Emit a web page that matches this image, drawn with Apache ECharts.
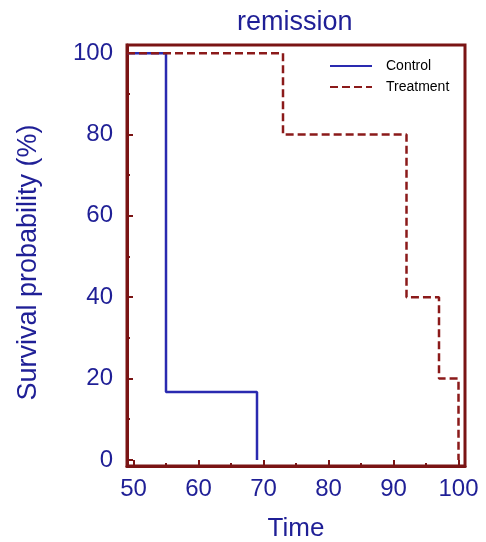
<!DOCTYPE html>
<html>
<head>
<meta charset="utf-8">
<script src="https://cdn.jsdelivr.net/npm/echarts@6/dist/echarts.min.js"></script>
<style>html,body{margin:0;padding:0;background:#fff;}#c{width:486px;height:542px;}</style>
</head>
<body>
<div id="c"></div>
<script>
var controlPoints = [[49, 100], [55, 16.7], [69, 0]];
var treatmentPoints = [[49, 100], [73, 80], [92, 40], [97, 20], [100, 0]];
var seriesNames = ['Control', 'Treatment'];
var titleText = 'remission';
var xName = 'Time';
var yName = 'Survival probability (%)';

var navy = '#1f1f96';
var frame = '#7a1414';
var chart = echarts.init(document.getElementById('c'));
chart.setOption({
  animation: false,
  title: {text: titleText, left: 232, top: 4,
    textStyle: {color: navy, fontSize: 27, fontWeight: 'normal', fontFamily: 'Liberation Sans'}},
  legend: {orient: 'vertical', left: 324, top: 54, itemWidth: 42, itemHeight: 14, itemGap: 7,
    data: seriesNames, itemStyle: {opacity: 0},
    textStyle: {color: '#000', fontSize: 14, fontFamily: 'Liberation Sans', padding: [0, 0, 0, 9]}},
  grid: {left: 127, right: 21, top: 45, bottom: 76, outerBoundsMode: 'none', containLabel: false,
    show: true, borderColor: frame, borderWidth: 3, backgroundColor: 'transparent'},
  xAxis: {type: 'value', min: 49, max: 101, splitNumber: 5,
    name: xName, nameLocation: 'middle', nameGap: 50,
    nameTextStyle: {color: navy, fontSize: 26, fontFamily: 'Liberation Sans'},
    axisLine: {show: true, onZero: false, lineStyle: {color: frame, width: 3}},
    axisTick: {show: true, inside: true, length: 6, lineStyle: {color: frame, width: 2}},
    minorTick: {show: true, splitNumber: 2, length: 3, lineStyle: {color: frame, width: 2}},
    splitLine: {show: false},
    axisLabel: {color: navy, fontSize: 24, fontFamily: 'Liberation Sans', margin: 11, showMinLabel: false, showMaxLabel: false}},
  yAxis: {type: 'value', min: -1.5, max: 102, splitNumber: 5,
    name: yName, nameLocation: 'middle', nameGap: 85, nameRotate: 90,
    nameTextStyle: {color: navy, fontSize: 27, fontFamily: 'Liberation Sans', padding: [0, 14, 0, 0]},
    axisLine: {show: true, onZero: false, lineStyle: {color: frame, width: 3}},
    axisTick: {show: true, inside: true, length: 6, lineStyle: {color: frame, width: 2}},
    minorTick: {show: true, splitNumber: 2, length: 3, lineStyle: {color: frame, width: 2}},
    splitLine: {show: false},
    axisLabel: {color: navy, fontSize: 24, fontFamily: 'Liberation Sans', margin: 14, showMinLabel: false, showMaxLabel: false}},
  series: [
    {name: seriesNames[0], type: 'line', step: 'end', data: controlPoints, symbol: 'none',
      lineStyle: {color: '#2a2ab0', width: 2.5}, itemStyle: {color: '#2a2ab0'}, z: 2},
    {name: seriesNames[1], type: 'line', step: 'end', data: treatmentPoints, symbol: 'none',
      lineStyle: {color: '#8b1a1a', width: 2.5, type: [8, 4]}, itemStyle: {color: '#8b1a1a'}, z: 3}
  ]
});
</script>
</body>
</html>
